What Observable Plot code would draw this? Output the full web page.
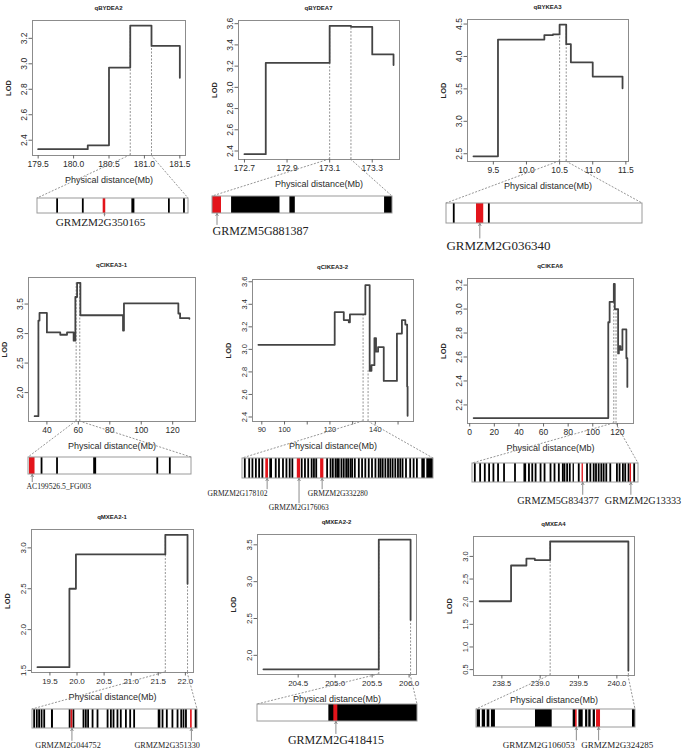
<!DOCTYPE html>
<html><head><meta charset="utf-8">
<script src="https://cdn.jsdelivr.net/npm/d3@7"></script>
<script src="https://cdn.jsdelivr.net/npm/@observablehq/plot@0.6"></script>
<style>
body{margin:0;background:#fff;}
#fig{position:relative;width:685px;height:751px;overflow:hidden;font-family:"Liberation Sans",Arial,sans-serif;background:#fff;}
#fig svg{position:absolute;overflow:visible;background:transparent;}
.title{position:absolute;font-size:6px;font-weight:bold;transform:translate(-50%,-50%);white-space:nowrap;color:#222;}
g[aria-label="y-axis label"]{font-weight:bold;font-size:7.5px;}
g[aria-label="x-axis label"]{font-size:9px;}
</style></head>
<body><div id="fig"></div>
<script>
// ---------------- DATA ----------------
const titles = ["qBYDEA2","qBYDEA7","qBYKEA3","qCIKEA3-1","qCIKEA3-2","qCIKEA6","qMXEA2-1","qMXEA2-2","qMXEA4"];
const xLabel = "Physical distance(Mb)";
const yLabel = "LOD";

// step profiles [Mb, LOD]
const steps1 = [[179.5,2.33],[180.2,2.36],[180.5,2.97],[180.8,3.30],[181.1,3.14],[181.5,3.14],[181.5,2.89]];
const steps2 = [[172.7,2.37],[172.8,3.23],[173.1,3.58],[173.2,3.57],[173.3,3.31],[173.4,3.31],[173.4,3.21]];
const steps3 = [[9.2,2.46],[9.57,4.26],[10.27,4.33],[10.4,4.34],[10.5,4.49],[10.6,4.19],[10.67,3.91],[11.0,3.69],[11.45,3.69],[11.45,3.51]];
const steps4 = [[32.2,1.60],[34.6,3.22],[35.3,3.35],[40.0,3.02],[48.5,2.98],[52.8,3.02],[57.0,2.88],[58.1,3.62],[59.2,3.86],[61.3,3.31],[88.4,3.05],[89.0,3.51],[123.6,3.34],[124.7,3.26],[130.6,3.25]];
const steps5 = [[88.5,3.04],[122.1,3.33],[126.1,3.26],[128.3,3.24],[128.8,3.31],[135.6,3.57],[137.5,2.81],[138.3,2.86],[139.6,3.10],[140.3,2.98],[141.2,3.02],[143.7,2.72],[149.5,3.14],[151.7,3.26],[153.2,3.22],[154.0,2.67],[154.2,2.67],[154.2,2.41]];
const steps6 = [[3.2,2.09],[112.6,2.89],[113.7,3.06],[117.1,3.21],[117.9,3.00],[120.6,2.63],[121.2,2.69],[122.5,2.66],[124.1,2.83],[127.3,2.59],[128.1,2.59],[128.1,2.35]];
const steps7 = [[19.27,1.54],[19.86,2.50],[19.98,2.92],[21.63,3.16],[22.04,3.16],[22.04,2.56]];
const steps8 = [[204.03,1.81],[205.59,3.57],[206.02,3.57],[206.02,2.48]];
const steps9 = [[238.21,2.01],[238.62,2.80],[238.82,2.95],[238.93,2.92],[239.13,3.33],[240.15,3.33],[240.15,0.48]];

// candidate interval bounds [Mb, LOD at top of dashed line]
const cuts1 = [[180.8,3.30],[181.1,3.30]];
const cuts2 = [[173.1,3.58],[173.2,3.58]];
const cuts3 = [[10.5,4.49],[10.6,4.49]];
const cuts4 = [[58.6,3.86],[60.9,3.86]];
const cuts5 = [[134.6,3.31],[136.8,2.81]];
const cuts6 = [[117.1,3.21],[118.9,3.00]];
const cuts7 = [[21.63,3.16],[22.04,2.56]];
const cuts8 = [[205.59,3.57],[206.02,2.48]];
const cuts9 = [[239.13,3.33],[240.15,0.48]];

// tick values
const xTicks1=[179.5,180,180.5,181,181.5], yTicks1=[2.4,2.6,2.8,3.0,3.2];
const xTicks2=[172.7,172.9,173.1,173.3], yTicks2=[2.4,2.6,2.8,3.0,3.2,3.4,3.6];
const xTicks3=[9.5,10,10.5,11,11.5], yTicks3=[2.5,3.0,3.5,4.0,4.5];
const xTicks4=[40,60,80,100,120], yTicks4=[2.0,2.5,3.0,3.5];
const xTicks5=[90,100,110,120,130,140,150], yTicks5=[2.4,2.6,2.8,3.0,3.2,3.4,3.6];
const xShown5=[90,100,120,140];
const xTicks6=[0,20,40,60,80,100,120], yTicks6=[2.2,2.4,2.6,2.8,3.0,3.2];
const xTicks7=[19.5,20,20.5,21,21.5,22], yTicks7=[1.5,2.0,2.5,3.0];
const xTicks8=[204.5,205,205.5,206], yTicks8=[2.0,2.5,3.0,3.5];
const xTicks9=[238.5,239,239.5,240], yTicks9=[0.5,1.0,1.5,2.0,2.5,3.0];

// genes within the interval (fraction of interval)
const lines1=[0.13,0.30,0.87,0.97], blocks1=[[0.625,0.645]], reds1=[[0.435,0.452]];
const lines2=[], blocks2=[[0.106,0.375],[0.43,0.46],[0.956,1.0]], reds2=[[0,0.05]];
const lines3=[0.037,0.216], blocks3=[], reds3=[[0.153,0.19]];
const lines4=[0.08,0.175,0.79,0.867], blocks4=[[0.4,0.418]], reds4=[[0.006,0.04]];
const lines5=[0.012,0.035,0.052,0.07,0.087,0.104,0.174,0.191,0.212,0.23,0.247,0.261,0.31,0.327,0.344,0.362,0.374,0.386,0.443,0.461,0.473,0.487,0.496,0.504,0.518,0.53,0.543,0.553,0.565,0.574,0.588,0.609,0.626,0.643,0.661,0.678,0.696,0.713,0.723,0.734,0.748,0.762,0.774,0.786,0.8,0.814,0.826,0.838,0.856,0.878,0.896,0.913];
const blocks5=[[0.143,0.157],[0.939,0.957],[0.965,1.0]], reds5=[[0.122,0.136],[0.287,0.304],[0.409,0.426]];
const lines6=[0.014,0.046,0.074,0.1,0.126,0.154,0.19,0.256,0.34,0.36,0.38,0.41,0.434,0.47,0.494,0.52,0.544,0.554,0.57,0.586,0.64,0.69,0.71,0.73,0.744,0.76,0.776,0.79,0.806,0.83,0.87,0.886,0.906,0.92,0.94,0.974];
const blocks6=[[0.31,0.326],[0.606,0.614]], reds6=[[0.66,0.668],[0.95,0.958]];
const lines7=[0.01,0.026,0.04,0.055,0.071,0.225,0.248,0.309,0.323,0.337,0.364,0.394,0.455,0.475,0.491,0.515,0.535,0.566,0.592,0.616,0.788,0.814,0.848,0.879,0.915,0.93];
const blocks7=[[0.115,0.127],[0.762,0.778],[0.899,0.909],[0.986,1.0]], reds7=[[0.234,0.244],[0.958,0.968]];
const lines8=[], blocks8=[[0.446,1.0]], reds8=[[0.477,0.502]];
const lines9=[], blocks9=[[0.004,0.025],[0.036,0.057],[0.067,0.084],[0.094,0.119],[0.371,0.476],[0.608,0.623],[0.644,0.671],[0.686,0.7],[0.706,0.721],[0.734,0.748],[0.981,1.0]], reds9=[[0.623,0.633],[0.755,0.78]];

// labelled candidate genes [name, position in interval]
const names1=[["GRMZM2G350165",0.444]];
const names2=[["GRMZM5G881387",0.025]];
const names3=[["GRMZM2G036340",0.17]];
const names4=[["AC199526.5_FG003",0.023]];
const names5=[["GRMZM2G178102",0.129],["GRMZM2G176063",0.296],["GRMZM2G332280",0.417]];
const names6=[["GRMZM5G834377",0.664],["GRMZM2G13333",0.954]];
const names7=[["GRMZM2G044752",0.239],["GRMZM2G351330",0.963]];
const names8=[["GRMZM2G418415",0.49]];
const names9=[["GRMZM2G106053",0.628],["GRMZM2G324285",0.768]];

// ---------------- LAYOUT ----------------
const layout = [
 {frame:[32,20,185,155], bar:[37,198,188,213], xd:[179.42,181.58], yd:[2.28,3.34], fs:8.5, lfs:11.2, lx:[0.417], ly:[222], dec:1},
 {frame:[238,20,399,159], bar:[212,196,392,213], xd:[172.672,173.428], yd:[2.32,3.63], fs:8.5, lfs:12, lx:[0.267], ly:[231], dec:1},
 {frame:[467,19,628,161], bar:[446,203,642,223], xd:[9.11,11.54], yd:[2.38,4.57], fs:8.5, lfs:13, lx:[0.265], ly:[245], dec:1},
 {frame:[28,277,195,421], bar:[28,457,191,474], xd:[28.3,134.5], yd:[1.51,3.95], fs:8.5, lfs:7.7, lx:[0.186], ly:[486], dec:0},
 {frame:[252,279,413,421], bar:[242,458,433,478], xd:[85.9,156.8], yd:[2.36,3.62], fs:7.5, lfs:7.5, lx:[-0.026,0.295,0.499], ly:[493,507,493], dec:0},
 {frame:[467,278,633,423], bar:[472,463,638,482], xd:[-1.8,133.1], yd:[2.045,3.255], fs:8.5, lfs:10.2, lx:[0.515,1.027], ly:[500,500], dec:0},
 {frame:[31,529,193,672], bar:[32,709,197,728], xd:[19.16,22.15], yd:[1.475,3.225], fs:8, lfs:8.2, lx:[0.215,0.816], ly:[745,745], dec:1},
 {frame:[257,534,416,674], bar:[257,704,417,721], xd:[203.95,206.1], yd:[1.74,3.64], fs:8, lfs:12, lx:[0.49], ly:[740], dec:1},
 {frame:[473,536,634,675], bar:[476,709,635,727], xd:[238.13,240.23], yd:[0.37,3.44], fs:7.5, lfs:9, lx:[0.392,0.885], ly:[745,745], dec:1}
];

const series = [
 {steps:steps1,cuts:cuts1,xt:xTicks1,yt:yTicks1,lines:lines1,blocks:blocks1,reds:reds1,names:names1},
 {steps:steps2,cuts:cuts2,xt:xTicks2,yt:yTicks2,lines:lines2,blocks:blocks2,reds:reds2,names:names2},
 {steps:steps3,cuts:cuts3,xt:xTicks3,yt:yTicks3,lines:lines3,blocks:blocks3,reds:reds3,names:names3},
 {steps:steps4,cuts:cuts4,xt:xTicks4,yt:yTicks4,lines:lines4,blocks:blocks4,reds:reds4,names:names4},
 {steps:steps5,cuts:cuts5,xt:xTicks5,yt:yTicks5,lines:lines5,blocks:blocks5,reds:reds5,names:names5,shown:xShown5},
 {steps:steps6,cuts:cuts6,xt:xTicks6,yt:yTicks6,lines:lines6,blocks:blocks6,reds:reds6,names:names6},
 {steps:steps7,cuts:cuts7,xt:xTicks7,yt:yTicks7,lines:lines7,blocks:blocks7,reds:reds7,names:names7},
 {steps:steps8,cuts:cuts8,xt:xTicks8,yt:yTicks8,lines:lines8,blocks:blocks8,reds:reds8,names:names8},
 {steps:steps9,cuts:cuts9,xt:xTicks9,yt:yTicks9,lines:lines9,blocks:blocks9,reds:reds9,names:names9}
];

// ---------------- DRAW ----------------
const fig = document.getElementById("fig");
const connectors = [];
const mL=40, mR=8, mT=8, mB=36;

series.forEach((s,i)=>{
  const L = layout[i], f = L.frame, b = L.bar;
  const fmtX = d => (s.shown && !s.shown.includes(d)) ? "" : d.toFixed(L.dec);
  const lod = Plot.plot({
    width: f[2]-f[0]+mL+mR, height: f[3]-f[1]+mT+mB,
    marginLeft:mL, marginRight:mR, marginTop:mT, marginBottom:mB,
    style:{fontFamily:'"Liberation Sans",Arial,sans-serif', fontSize:L.fs+"px", color:"#2a2a2a", background:"transparent"},
    x:{domain:L.xd}, y:{domain:L.yd},
    marks:[
      Plot.frame({stroke:"#8c8c8c", strokeWidth:1}),
      Plot.ruleX(s.cuts,{x:d=>d[0], y1:L.yd[0], y2:d=>d[1], stroke:"#888", strokeWidth:0.9, strokeDasharray:"2,1.5"}),
      Plot.line(s.steps,{x:d=>d[0], y:d=>d[1], curve:"step-after", stroke:"#444", strokeWidth:1.8}),
      Plot.axisX({ticks:s.xt, tickFormat:fmtX, tickSize:3.5, tickPadding:2, stroke:"#666",
        label:xLabel, labelAnchor:"center", labelArrow:"none", labelOffset:27}),
      Plot.axisY({ticks:s.yt, tickFormat:d=>d.toFixed(1), tickSize:3.5, tickPadding:2, tickRotate:-90, stroke:"#666",
        label:yLabel, labelAnchor:"center", labelArrow:"none", labelOffset:27})
    ]
  });
  lod.style.left=(f[0]-mL)+"px"; lod.style.top=(f[1]-mT)+"px";
  fig.append(lod);

  const t = document.createElement("div");
  t.className="title"; t.textContent=titles[i];
  t.style.left=((f[0]+f[2])/2)+"px"; t.style.top=(f[1]-12)+"px";
  fig.append(t);

  // gene bar
  const gL=70, gR=70, gT=2;
  const bw=b[2]-b[0], bh=b[3]-b[1];
  const yv = px => (b[3]-px)/bh;
  const gH = Math.max(...L.ly) + 10 - b[1] + gT;
  const names = s.names.map((n,k)=>({name:n[0], at:n[1], lx:L.lx[k], ly:yv(L.ly[k]), a1:yv(L.ly[k]-L.lfs*0.5-1)}));
  const gene = Plot.plot({
    width:bw+gL+gR, height:gH, margin:0,
    x:{domain:[0,1], range:[gL,gL+bw], axis:null},
    y:{domain:[0,1], range:[gT+bh,gT], axis:null},
    style:{background:"transparent"},
    marks:[
      Plot.rect([0],{x1:0,x2:1,y1:0,y2:1,fill:"white"}),
      Plot.rect(s.blocks,{x1:d=>d[0],x2:d=>d[1],y1:0,y2:1,fill:"#000"}),
      Plot.ruleX(s.lines,{x:d=>d,y1:0,y2:1,stroke:"#000",strokeWidth:1.8}),
      Plot.rect(s.reds,{x1:d=>d[0],x2:d=>d[1],y1:0,y2:1,fill:"#e3141b"}),
      Plot.rect([0],{x1:0,x2:1,y1:0,y2:1,fill:"none",stroke:"#9a9a9a",strokeWidth:1}),
      Plot.arrow(names,{x1:"at",x2:"at",y1:"a1",y2:0,stroke:"#808080",strokeWidth:0.9,headLength:4}),
      Plot.text(names,{x:"lx",y:"ly",text:"name",fontFamily:'"Liberation Serif","Times New Roman",serif',fontSize:L.lfs,fill:"#222"})
    ]
  });
  gene.style.left=(b[0]-gL)+"px"; gene.style.top=(b[1]-gT)+"px";
  fig.append(gene);

  const xs = lod.scale("x"), gx = gene.scale("x");
  s.cuts.forEach((c,k)=>{
    connectors.push({
      x1:(f[0]-mL)+xs.apply(c[0]), y1:f[3],
      x2:(b[0]-gL)+gx.apply(k===0?0:1), y2:b[1]
    });
  });
});

const ov = d3.select(fig).append("svg").attr("width",685).attr("height",751)
  .style("left","0px").style("top","0px");
ov.selectAll("line").data(connectors).join("line")
  .attr("x1",d=>d.x1).attr("y1",d=>d.y1).attr("x2",d=>d.x2).attr("y2",d=>d.y2)
  .attr("stroke","#8a8a8a").attr("stroke-width",0.9).attr("stroke-dasharray","2,1.5");
</script></body></html>
